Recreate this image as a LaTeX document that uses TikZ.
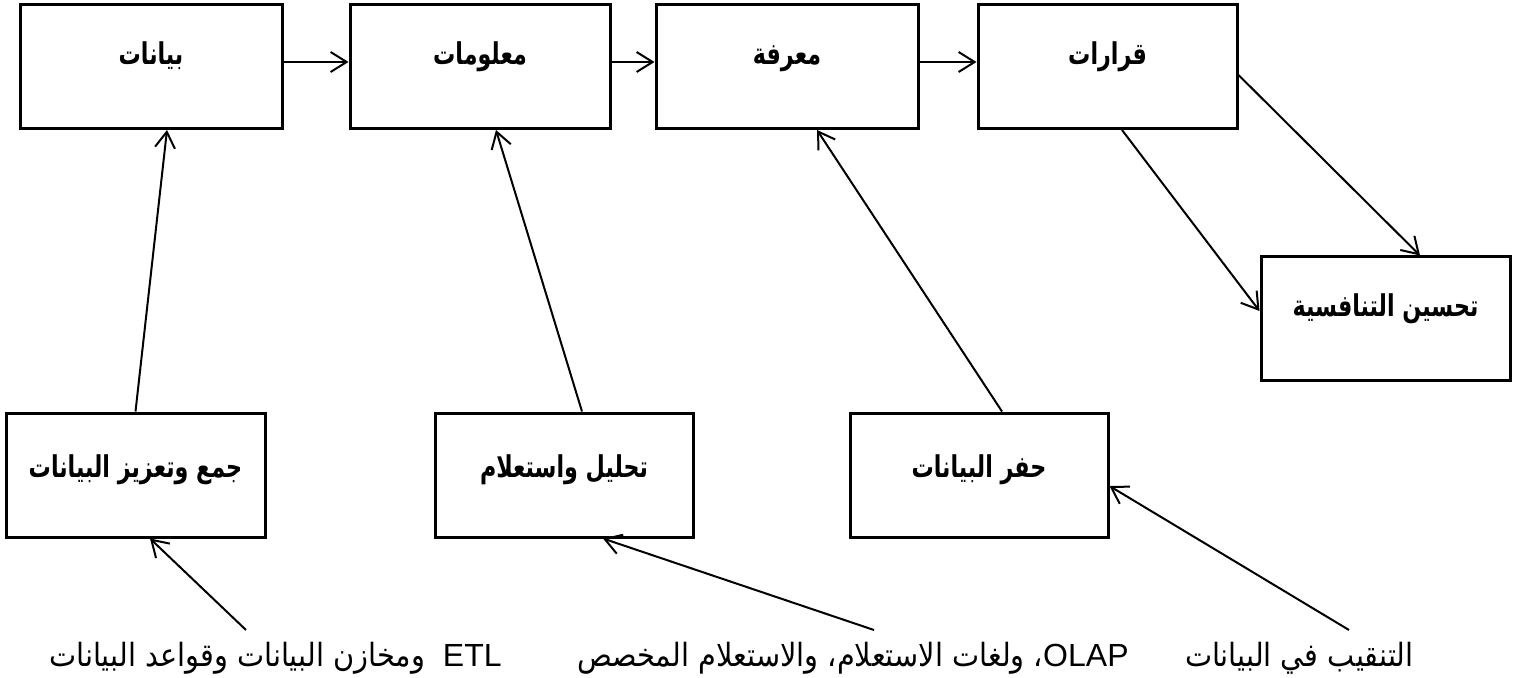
\documentclass[tikz,border=0pt]{standalone}
\usepackage{fontspec}
\TeXXeTstate=1
\newfontfamily\arabicfont[Script=Arabic, FakeStretch=0.9]{DejaVu Sans}
\newfontfamily\arabicboxfont[Script=Arabic, FakeStretch=0.74]{DejaVu Sans}
\newfontfamily\latinfont{Liberation Sans}
\usetikzlibrary{arrows.meta,calc}
\begin{document}
\begin{tikzpicture}[x=0.5pt,y=-0.5pt,
  box/.style={draw, line width=1.5pt, rectangle, inner sep=0pt,
    minimum height=62pt,
    font=\arabicboxfont\bfseries\fontsize{15}{17}\selectfont,
    text height=10pt, text depth=8pt},
  highbox/.style={box, text depth=12pt},
  arr/.style={draw, line width=1pt, -{Straight Barb[length=8pt,width=10pt]}},
  lab/.style={inner sep=0pt, anchor=base east,
    font=\arabicfont\fontsize{16}{18}\selectfont}]
\useasboundingbox (0,0) rectangle (1514,678);
% top row
\node[highbox, minimum width=131pt]   (b1) at (151,66.5)    {\beginR بيانات\endR};
\node[highbox, minimum width=130pt]   (b2) at (480,66.5)    {\beginR معلومات\endR};
\node[highbox, minimum width=131pt]   (b3) at (787,66.5)    {\beginR معرفة\endR};
\node[highbox, minimum width=129.5pt] (b4) at (1107.5,66.5) {\beginR قرارات\endR};
\node[highbox, minimum width=124.5pt] (b5) at (1385.5,319)  {\beginR تحسين التنافسية\endR};
% middle row
\node[box, minimum width=129.5pt] (b6) at (135.5,475) {\beginR جمع وتعزيز البيانات\endR};
\node[box, minimum width=129pt]   (b7) at (564,475)   {\beginR تحليل واستعلام\endR};
\node[box, minimum width=129pt]   (b8) at (979,475)   {\beginR حفر البيانات\endR};
% bottom labels
\node[lab] (l1) at (502,666)  {\beginR\beginL{\latinfont ETL}\endL{}\hspace{9pt}ومخازن البيانات وقواعد البيانات\endR};
\node[lab] (l2) at (1129,666) {\beginR\beginL{\latinfont OLAP}\endL{}، ولغات الاستعلام، والاستعلام المخصص\endR};
\node[lab] (l3) at (1414,666) {\beginR التنقيب في البيانات\endR};
\coordinate (s1) at (246,630);
\coordinate (s2) at (874,630);
\coordinate (s3) at (1349,630);
% chain arrows
\draw[arr] ([yshift=2.25pt]b1.east) -- ([yshift=2.25pt]b2.west);
\draw[arr] ([yshift=2.25pt]b2.east) -- ([yshift=2.25pt]b3.west);
\draw[arr] ([yshift=2.25pt]b3.east) -- ([yshift=2.25pt]b4.west);
% upward arrows
\draw[arr] (b6.north) -- ([xshift=8pt]b1.south);
\draw[arr] ([xshift=9pt]b7.north) -- ([xshift=8pt]b2.south);
\draw[arr] ([xshift=11.5pt]b8.north) -- ([xshift=15pt]b3.south);
% decisions to competitiveness
\draw[arr] ([xshift=7.25pt]b4.south) -- ([yshift=4pt]b5.west);
\draw[arr] ([yshift=-4.25pt]b4.east) -- ([xshift=17.25pt]b5.north);
% label arrows
\draw[arr] (s1) -- ([xshift=7.25pt]b6.south);
\draw[arr] (s2) -- ([xshift=19.5pt]b7.south);
\draw[arr] (s3) -- ([yshift=-5.5pt]b8.east);
\end{tikzpicture}
\end{document}
